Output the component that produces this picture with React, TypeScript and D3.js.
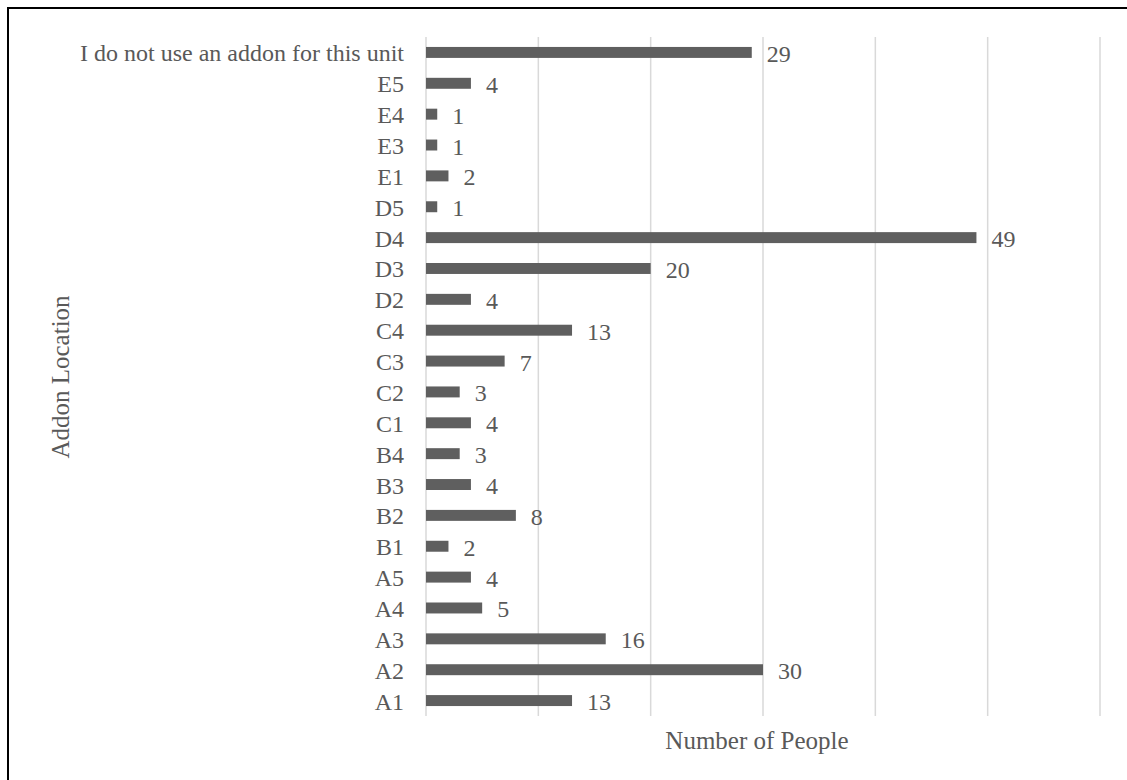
import React from 'react';
import * as d3 from 'd3';

const categories = [
  'A1', 'A2', 'A3', 'A4', 'A5', 'B1', 'B2', 'B3', 'B4', 'C1', 'C2', 'C3', 'C4',
  'D2', 'D3', 'D4', 'D5', 'E1', 'E3', 'E4', 'E5', 'I do not use an addon for this unit',
];
const people = [13, 30, 16, 5, 4, 2, 8, 4, 3, 4, 3, 7, 13, 4, 20, 49, 1, 2, 1, 1, 4, 29];
const xTicks = [0, 10, 20, 30, 40, 50, 60];
const xTitle = 'Number of People';
const yTitle = 'Addon Location';

const W = 1127;
const H = 780;
const font = '"Liberation Serif", "Times New Roman", serif';
const textColor = '#595959';

const App = () => {
  const x = d3.scaleLinear().domain([0, 60]).range([426, 1100]);
  // top of the chart holds the last category, like Excel does
  const y = d3.scaleBand()
    .domain([...categories].reverse())
    .range([37, 716])
    .paddingInner(0.645)
    .paddingOuter(0.3225);

  return (
    <svg width={W} height={H} style={{ position: 'absolute', left: 0, top: 0 }}>
      <rect x={0} y={0} width={W} height={H} fill="white" />
      <rect x={8} y={8} width={W + 10} height={H + 10} fill="none" stroke="#000" strokeWidth={2} />

      {xTicks.map(t => (
        <line key={t} x1={x(t)} x2={x(t)} y1={37} y2={716} stroke="#d9d9d9" strokeWidth={1.5} />
      ))}

      {categories.map((c, i) => (
        <g key={c}>
          <rect
            x={x(0)}
            y={y(c)}
            width={x(people[i]) - x(0)}
            height={y.bandwidth()}
            fill="#5f5f5f"
          />
          <text
            x={x(people[i]) + 15}
            y={y(c) + y.bandwidth() / 2 + 1.5}
            dominantBaseline="central"
            fontFamily={font}
            fontSize={24}
            fill={textColor}
          >{people[i]}</text>
          <text
            x={404}
            y={y(c) + y.bandwidth() / 2 + 1}
            dominantBaseline="central"
            textAnchor="end"
            fontFamily={font}
            fontSize={24}
            fill={textColor}
          >{c}</text>
        </g>
      ))}

      <text x={757} y={740} dominantBaseline="central" textAnchor="middle"
        fontFamily={font} fontSize={25} fill={textColor}>{xTitle}</text>
      <text transform={`translate(60,377) rotate(-90)`} dominantBaseline="central" textAnchor="middle"
        fontFamily={font} fontSize={25} fill={textColor}>{yTitle}</text>
    </svg>
  );
};

export default App;
